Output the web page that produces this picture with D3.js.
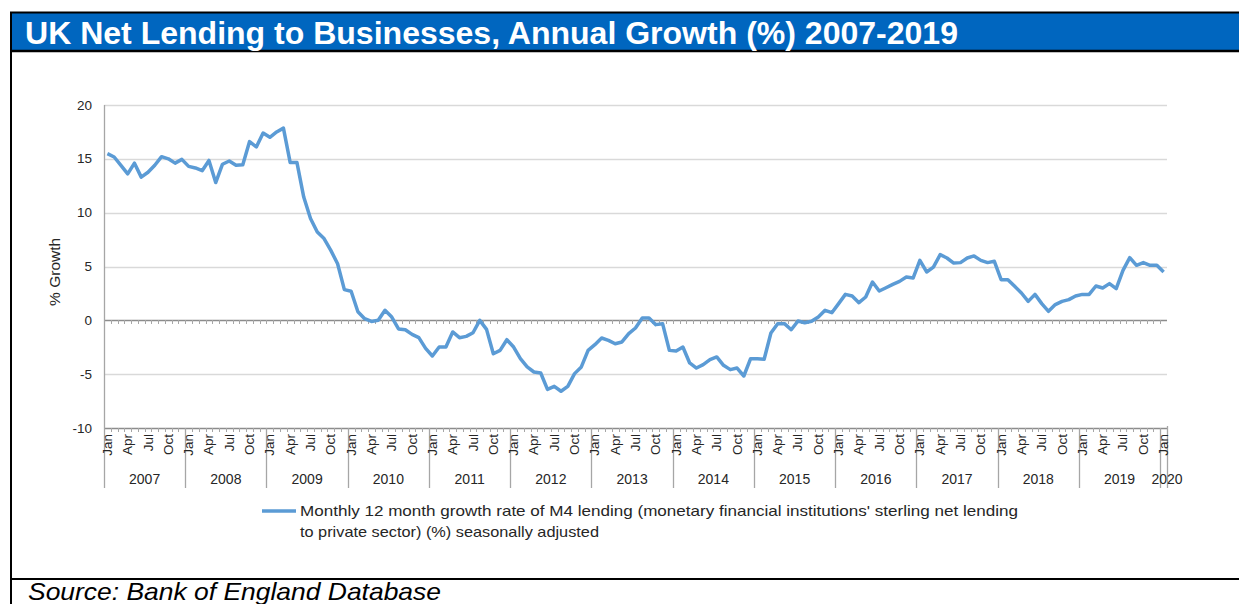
<!DOCTYPE html>
<html>
<head>
<meta charset="utf-8">
<script src="https://cdn.jsdelivr.net/npm/d3@7"></script>
<style>
  body { margin: 0; background: #fff; }
  svg { display: block; }
  .lbl { font-family: "Liberation Sans Narrow", "Liberation Sans", Arial, sans-serif; fill: #262626; }
</style>
</head>
<body>
<div id="chart"></div>
<script>
// Monthly series, Jan 2007 .. Jan 2020 (157 months), % annual growth
var growth = [
  15.48, 15.17, 14.4, 13.6, 14.6, 13.3, 13.75, 14.4, 15.2, 15.0, 14.6, 14.95,
  14.3, 14.15, 13.9, 14.85, 12.8, 14.5, 14.8, 14.4, 14.45, 16.6, 16.1, 17.4,
  17.0, 17.5, 17.85, 14.65, 14.65, 11.45, 9.45, 8.2, 7.6, 6.5, 5.25, 2.85,
  2.7, 0.8, 0.15, -0.1, 0.0, 0.93, 0.3, -0.8, -0.87, -1.3, -1.6, -2.6,
  -3.31, -2.48, -2.48, -1.08, -1.61, -1.49, -1.15, 0.0, -0.84, -3.1, -2.79, -1.8,
  -2.48, -3.56, -4.33, -4.8, -4.89, -6.41, -6.13, -6.59, -6.13, -4.95, -4.33, -2.79,
  -2.26, -1.64, -1.86, -2.17, -2.01, -1.24, -0.71, 0.22, 0.22, -0.4, -0.31, -2.79,
  -2.85, -2.48, -3.96, -4.43, -4.12, -3.65, -3.4, -4.18, -4.58, -4.43, -5.17, -3.56,
  -3.56, -3.62, -1.18, -0.31, -0.31, -0.87, -0.06, -0.22, -0.09, 0.31, 0.93, 0.71,
  1.55, 2.41, 2.26, 1.64, 2.17, 3.56, 2.72, 3.03, 3.34, 3.62, 4.02, 3.93,
  5.57, 4.49, 4.95, 6.1, 5.79, 5.32, 5.36, 5.79, 5.98, 5.57, 5.36, 5.48,
  3.78, 3.78, 3.16, 2.54, 1.76, 2.41, 1.55, 0.84, 1.46, 1.76, 1.92, 2.26,
  2.41, 2.41, 3.19, 3.0, 3.41, 2.94, 4.64, 5.82, 5.11, 5.36, 5.11, 5.11,
  4.49
];
var years = [2007, 2008, 2009, 2010, 2011, 2012, 2013, 2014, 2015, 2016, 2017, 2018, 2019, 2020];
var monthNames = ["Jan", "Feb", "Mar", "Apr", "May", "Jun", "Jul", "Aug", "Sep", "Oct", "Nov", "Dec"];
var shownMonths = ["Jan", "Apr", "Jul", "Oct"];
var yTicks = [-10, -5, 0, 5, 10, 15, 20];

var title = "UK Net Lending to Businesses, Annual Growth (%) 2007-2019";
var yTitle = "% Growth";
var legendLines = [
  "Monthly 12 month growth rate of M4 lending  (monetary financial institutions' sterling net lending",
  "to private sector) (%) seasonally adjusted"
];
var source = "Source: Bank of England Database";

// category keys: one per month
var cats = growth.map(function (d, i) {
  return { key: i, year: years[Math.floor(i / 12)], month: monthNames[i % 12], value: d };
});

var W = 1239, H = 604;
var svg = d3.select("#chart").append("svg").attr("width", W).attr("height", H);

// frame + title bar
svg.append("rect").attr("x", 11).attr("y", 13).attr("width", W - 11).attr("height", 37).attr("fill", "#0066bf");
svg.append("line").attr("x1", 10).attr("x2", W).attr("y1", 12.5).attr("y2", 12.5).attr("stroke", "#000").attr("stroke-width", 2);
svg.append("line").attr("x1", 10).attr("x2", W).attr("y1", 51).attr("y2", 51).attr("stroke", "#000").attr("stroke-width", 2.5);
svg.append("line").attr("x1", 11).attr("x2", 11).attr("y1", 12).attr("y2", H).attr("stroke", "#000").attr("stroke-width", 2);
svg.append("line").attr("x1", 10).attr("x2", W).attr("y1", 579).attr("y2", 579).attr("stroke", "#000").attr("stroke-width", 2);

svg.append("text").attr("x", 25).attr("y", 44)
  .attr("font-family", "'Liberation Sans', Arial, sans-serif")
  .attr("font-weight", "bold").attr("font-size", 31).attr("fill", "#fff")
  .attr("textLength", 933).attr("lengthAdjust", "spacingAndGlyphs")
  .text(title);

svg.append("text").attr("x", 28).attr("y", 600)
  .attr("font-family", "'Liberation Sans', Arial, sans-serif")
  .attr("font-style", "italic").attr("font-size", 24).attr("fill", "#000")
  .attr("textLength", 413).attr("lengthAdjust", "spacingAndGlyphs")
  .text(source);

// scales
var x = d3.scaleBand().domain(cats.map(function (d) { return d.key; })).range([104, 1167]).padding(0);
var y = d3.scaleLinear().domain([-10, 20]).range([428, 105]);
var bw = x.bandwidth();

// gridlines
svg.append("g").selectAll("line").data(yTicks).join("line")
  .attr("x1", 104).attr("x2", 1167)
  .attr("y1", function (d) { return Math.round(y(d)) + 0.5; })
  .attr("y2", function (d) { return Math.round(y(d)) + 0.5; })
  .attr("stroke", function (d) { return d === 0 || d === -10 ? "#8c8c8c" : "#d9d9d9"; })
  .attr("stroke-width", 1.3);

// y axis
svg.append("line").attr("x1", 104.5).attr("x2", 104.5).attr("y1", y(20)).attr("y2", y(-10))
  .attr("stroke", "#a6a6a6").attr("stroke-width", 1.3);

svg.append("g").selectAll("text").data(yTicks).join("text")
  .attr("class", "lbl")
  .attr("x", 92).attr("y", function (d) { return y(d) + 4.5; })
  .attr("text-anchor", "end").attr("font-size", 13.5)
  .text(function (d) { return d; });

svg.append("text").attr("class", "lbl")
  .attr("transform", "translate(60," + y(4.5) + ") rotate(-90)")
  .attr("text-anchor", "middle").attr("font-size", 15.5)
  .text(yTitle);

// minor month ticks on zero line and bottom axis
[0, -10].forEach(function (v) {
  svg.append("g").selectAll("line").data(cats.slice(1)).join("line")
    .attr("x1", function (d) { return Math.round(x(d.key)) + 0.5; })
    .attr("x2", function (d) { return Math.round(x(d.key)) + 0.5; })
    .attr("y1", Math.round(y(v))).attr("y2", Math.round(y(v)) + 4)
    .attr("stroke", "#a6a6a6").attr("stroke-width", 1);
});

// year separators
var yearStarts = cats.filter(function (d) { return d.month === "Jan"; });
svg.append("g").selectAll("line").data(yearStarts).join("line")
  .attr("x1", function (d) { return Math.round(x(d.key)) + 0.5; })
  .attr("x2", function (d) { return Math.round(x(d.key)) + 0.5; })
  .attr("y1", y(-10)).attr("y2", 488)
  .attr("stroke", "#a6a6a6").attr("stroke-width", 1.3);
svg.append("line").attr("x1", 1167.5).attr("x2", 1167.5).attr("y1", y(-10) - 2).attr("y2", 488)
  .attr("stroke", "#a6a6a6").attr("stroke-width", 1.3);

// month labels
svg.append("g").selectAll("text")
  .data(cats.filter(function (d) { return shownMonths.indexOf(d.month) >= 0; }))
  .join("text").attr("class", "lbl")
  .attr("transform", function (d) { return "translate(" + (x(d.key) + bw / 2 + 4.5) + ",434) rotate(-90)"; })
  .attr("text-anchor", "end").attr("font-size", 13.5)
  .text(function (d) { return d.month; });

// year labels
svg.append("g").selectAll("text").data(yearStarts).join("text").attr("class", "lbl")
  .attr("x", function (d) { return d.year === 2020 ? 1167 : x(d.key) + bw * 6; })
  .attr("y", 484).attr("text-anchor", "middle").attr("font-size", 14)
  .text(function (d) { return d.year; });

// series line
var line = d3.line()
  .x(function (d) { return x(d.key) + bw / 2; })
  .y(function (d) { return y(d.value); });
svg.append("path").datum(cats).attr("d", line)
  .attr("fill", "none").attr("stroke", "#5b9bd5").attr("stroke-width", 3.5)
  .attr("stroke-linejoin", "round");

// legend
svg.append("line").attr("x1", 262).attr("x2", 296).attr("y1", 511).attr("y2", 511)
  .attr("stroke", "#5b9bd5").attr("stroke-width", 3.5);
svg.append("text").attr("class", "lbl").attr("x", 300).attr("y", 516).attr("font-size", 14.5)
  .attr("textLength", 718).attr("lengthAdjust", "spacingAndGlyphs").text(legendLines[0]);
svg.append("text").attr("class", "lbl").attr("x", 300).attr("y", 537).attr("font-size", 14.5)
  .attr("textLength", 299).attr("lengthAdjust", "spacingAndGlyphs").text(legendLines[1]);
</script>
</body>
</html>
